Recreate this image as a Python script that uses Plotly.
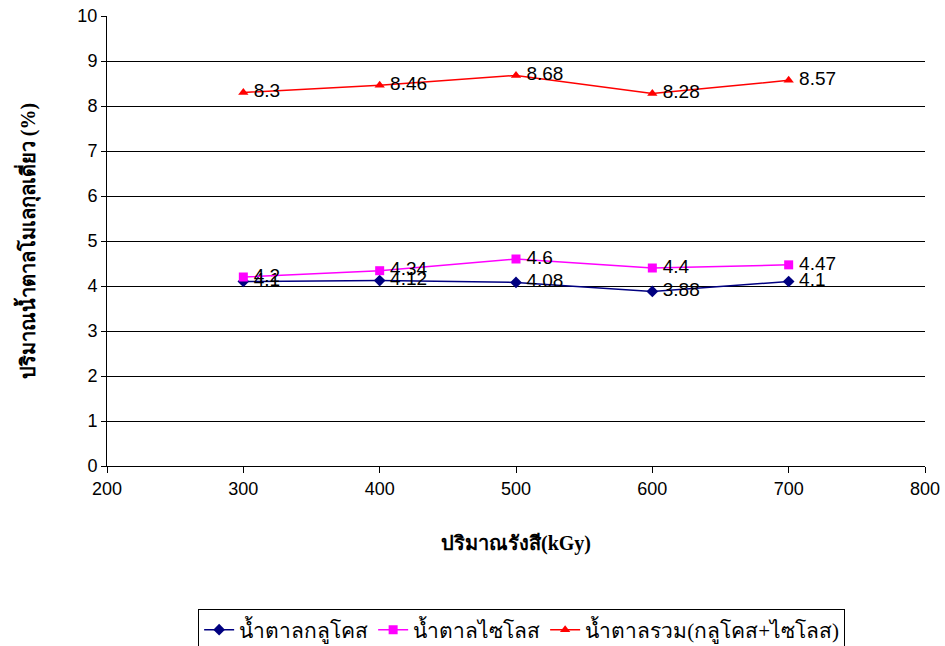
import plotly.graph_objects as go

dose = [300, 400, 500, 600, 700]
glucose = [4.1, 4.12, 4.08, 3.88, 4.1]
xylose = [4.2, 4.34, 4.6, 4.4, 4.47]
total = [8.3, 8.46, 8.68, 8.28, 8.57]
names = ["น้ำตาลกลูโคส", "น้ำตาลไซโลส", "น้ำตาลรวม(กลูโคส+ไซโลส)"]

label_font = dict(family="Arial", size=19, color="black")
thai_font = "Liberation Serif, Noto Sans"


def labels(vals):
    return ["\u2009" + str(v) for v in vals]


fig = go.Figure()
fig.add_trace(go.Scatter(x=dose, y=glucose, name=names[0], mode="lines+markers+text",
                         line=dict(color="#000080", width=1.5),
                         marker=dict(symbol="diamond", size=9, color="#000080"),
                         text=labels(glucose), textposition="middle right",
                         textfont=label_font))
fig.add_trace(go.Scatter(x=dose, y=xylose, name=names[1], mode="lines+markers+text",
                         line=dict(color="#FF00FF", width=1.5),
                         marker=dict(symbol="square", size=9, color="#FF00FF"),
                         text=labels(xylose), textposition="middle right",
                         textfont=label_font))
fig.add_trace(go.Scatter(x=dose, y=total, name=names[2], mode="lines+markers+text",
                         line=dict(color="#FF0000", width=1.5),
                         marker=dict(symbol="triangle-up", size=9, color="#FF0000"),
                         text=labels(total), textposition="middle right",
                         textfont=label_font))

fig.update_layout(
    width=945, height=646,
    margin=dict(l=107, r=20, t=16, b=180),
    paper_bgcolor="white", plot_bgcolor="white",
    font=dict(family="Arial", size=18, color="black"),
    showlegend=True,
    legend=dict(orientation="h", x=0.552, xref="container", xanchor="center",
                y=0.058, yref="container", yanchor="top",
                bordercolor="black", borderwidth=1,
                font=dict(family=thai_font, size=21)),
    xaxis=dict(range=[200, 800], dtick=100, showgrid=False, zeroline=False,
               showline=True, linecolor="black", linewidth=1, automargin=False,
               ticks="outside", ticklen=6, tickcolor="black",
               title=dict(text="<b>ปริมาณรังสี(kGy)</b>", standoff=38,
                          font=dict(family=thai_font, size=20))),
    yaxis=dict(range=[0, 10], dtick=1, showgrid=True, gridcolor="black", gridwidth=1,
               zeroline=False, showline=True, linecolor="black", linewidth=1,
               automargin=False,
               ticks="outside", ticklen=5, tickcolor="black",
               title=dict(text="<b>ปริมาณน้ำตาลโมเลกุลเดี่ยว (%)</b>", standoff=36,
                          font=dict(family=thai_font, size=20))),
)

fig.write_html("out.html")
